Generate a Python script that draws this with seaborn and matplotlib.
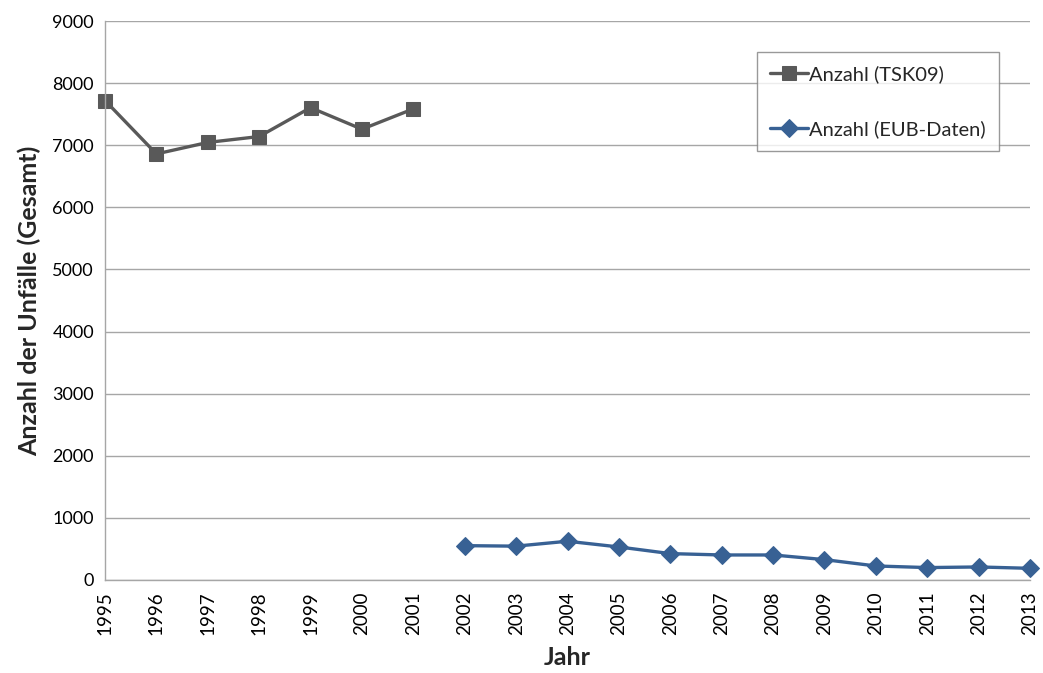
import matplotlib
matplotlib.use("Agg")
import matplotlib.pyplot as plt
import seaborn as sns
import pandas as pd

years_tsk = [1995, 1996, 1997, 1998, 1999, 2000, 2001]
values_tsk = [7720, 6860, 7045, 7140, 7605, 7258, 7585]
years_eub = [2002, 2003, 2004, 2005, 2006, 2007, 2008, 2009, 2010, 2011, 2012, 2013]
values_eub = [553, 545, 624, 532, 425, 403, 403, 328, 226, 200, 210, 188]
label_tsk = "Anzahl (TSK09)"
label_eub = "Anzahl (EUB-Daten)"

sns.set_theme(style="white")
plt.rcParams['font.family'] = ['Lato', 'DejaVu Sans']

fig = plt.figure(figsize=(10.43, 6.73), dpi=100)
ax = fig.add_axes([105/1043, 1 - 580/673, (1030-105)/1043, (580-21)/673])

df_tsk = pd.DataFrame({"Jahr": years_tsk, "Wert": values_tsk})
df_eub = pd.DataFrame({"Jahr": years_eub, "Wert": values_eub})

sns.lineplot(data=df_tsk, x="Jahr", y="Wert", ax=ax, color="#595959", linewidth=2.4,
             marker="s", markersize=10, markeredgecolor="#595959", label=label_tsk,
             clip_on=False)
sns.lineplot(data=df_eub, x="Jahr", y="Wert", ax=ax, color="#386194", linewidth=2.4,
             marker="D", markersize=9, markeredgecolor="#386194", label=label_eub,
             clip_on=False)

ax.set_xlim(1995, 2013)
ax.set_ylim(0, 9000)
ax.set_yticks(range(0, 9001, 1000))
ax.set_xticks(list(range(1995, 2014)))
ax.set_xticklabels([str(y) for y in range(1995, 2014)], rotation=90)
ax.grid(axis="y", color="#a6a6a6", linewidth=1)
ax.set_axisbelow(True)
for s in ["top", "right"]:
    ax.spines[s].set_visible(False)
for s in ["left", "bottom"]:
    ax.spines[s].set_color("#a6a6a6")
    ax.spines[s].set_linewidth(1)
ax.tick_params(axis="y", which="major", direction="out", length=5, width=1,
               color="#a6a6a6", labelsize=13, labelcolor="black", pad=3)
ax.tick_params(axis="x", which="major", direction="out", length=5, width=1,
               color="#a6a6a6", labelsize=13.5, labelcolor="black", pad=3)
ax.set_xlabel("Jahr", fontsize=18, fontweight="bold", labelpad=8)
ax.set_ylabel("Anzahl der Unfälle (Gesamt)", fontsize=18, fontweight="bold", labelpad=8)

leg = ax.legend(loc="upper left", bbox_to_anchor=((757-105)/925, (580-52)/559),
                frameon=True, fancybox=False, fontsize=14.5, labelspacing=1.85,
                handlelength=1.9, handletextpad=0.05, borderpad=0.65, borderaxespad=0)
leg.get_frame().set_edgecolor("#808080")
leg.get_frame().set_linewidth(1)

fig.savefig("out.png", dpi=100)
